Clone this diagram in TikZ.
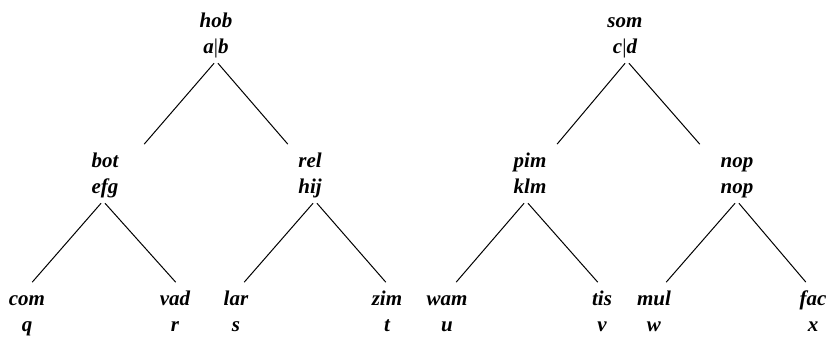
\documentclass[tikz,border=0pt]{standalone}
\usepackage{fontspec}
\setmainfont{Liberation Serif}

% two stacked words of one tree node
\newcommand{\twoline}[2]{\strut#1\\\strut#2}
\newcommand{\cut}{{\upshape\mdseries|}}

\begin{document}
\begin{tikzpicture}[
  x=0.5pt, y=-0.5pt,
  word/.style={align=center, inner sep=0pt, outer sep=0pt,
    font=\fontsize{10.5}{13}\selectfont\bfseries\itshape},
  branch/.style={line width=0.5pt, shorten <=1.5pt, shorten >=3.2pt},
]
\useasboundingbox (0,0) rectangle (832,338);

% first tree
\node[word] (hob) at (216,35) {\twoline{hob}{a\cut b}};
\node[word] (bot) at (105,175) {\twoline{bot}{efg}};
\node[word] (rel) at (310,175) {\twoline{rel}{hij}};
\node[word] (com) at (27,313) {\twoline{com}{q}};
\node[word] (vad) at (175,313) {\twoline{vad}{r}};
\node[word] (lar) at (236,313) {\twoline{lar}{s}};
\node[word] (zim) at (387,313) {\twoline{zim}{t}};

% second tree
\node[word] (som) at (625,35) {\twoline{som}{c\cut d}};
\node[word] (pim) at (530,175) {\twoline{pim}{klm}};
\node[word] (nop) at (737,175) {\twoline{nop}{nop}};
\node[word] (wam) at (447,313) {\twoline{wam}{u}};
\node[word] (tis) at (602,313) {\twoline{tis}{v}};
\node[word] (mul) at (654,313) {\twoline{mul}{w}};
\node[word] (fac) at (813,313) {\twoline{fac}{x}};

% branches
\draw[branch] (hob.south) -- ([xshift=17.5pt]bot.north);
\draw[branch] (hob.south) -- ([xshift=-9pt]rel.north);
\draw[branch] ([xshift=-1pt]bot.south) -- ([xshift=0.5pt]com.north);
\draw[branch] ([xshift=-1pt]bot.south) -- ([xshift=2.5pt]vad.north);
\draw[branch] ([xshift=2.5pt]rel.south) -- ([xshift=2pt]lar.north);
\draw[branch] ([xshift=2.5pt]rel.south) -- ([xshift=1.5pt]zim.north);

\draw[branch] ([xshift=1pt]som.south) -- ([xshift=11.5pt]pim.north);
\draw[branch] ([xshift=1pt]som.south) -- ([xshift=-16.5pt]nop.north);
\draw[branch] ([xshift=-2pt]pim.south) -- ([xshift=2.5pt]wam.north);
\draw[branch] ([xshift=-2pt]pim.south) -- (tis.north);
\draw[branch] (nop.south) -- ([xshift=4pt]mul.north);
\draw[branch] (nop.south) -- ([xshift=-1.5pt]fac.north);
\end{tikzpicture}
\end{document}
